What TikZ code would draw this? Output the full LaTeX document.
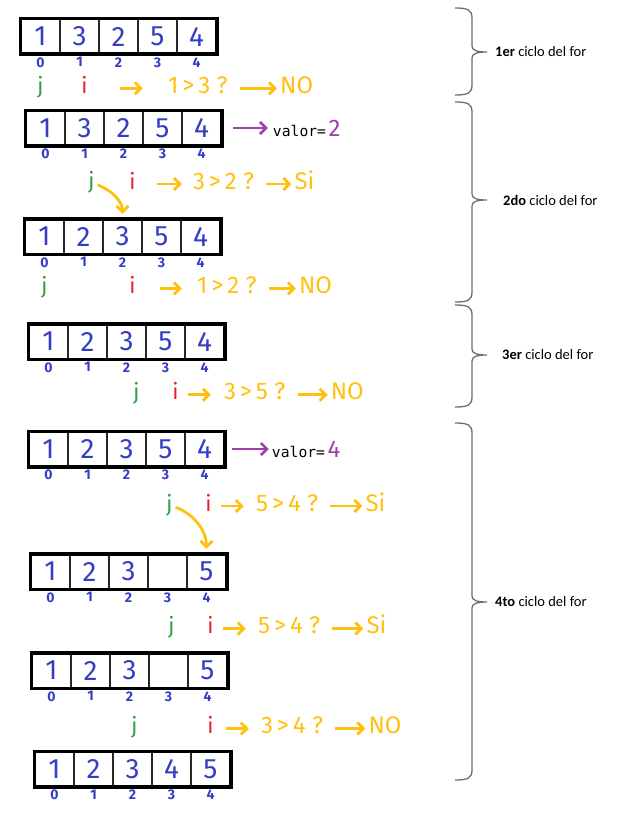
\documentclass[tikz,border=0pt]{standalone}
\usepackage{fontspec}
\setmainfont{Fira Sans}
\setmonofont{DejaVu Sans Mono}
\newfontfamily\calibri{Carlito}
\usepackage{xcolor}
\usetikzlibrary{positioning,arrows.meta,fit}

\definecolor{azul}{RGB}{52,62,196}
\definecolor{verde}{RGB}{46,160,64}
\definecolor{rojo}{RGB}{228,32,40}
\definecolor{amarillo}{RGB}{255,192,16}
\definecolor{morado}{RGB}{158,64,170}
\definecolor{gris}{RGB}{110,110,110}

\begin{document}
\begin{tikzpicture}[
    x=1pt, y=-1pt, >={Straight Barb[length=6pt,width=12pt]},
    node distance=10pt,
    celda/.style={draw=black!85, line width=1.5pt, fill=white,
                  minimum width=39pt, minimum height=34pt, inner sep=0pt,
                  text=azul, font=\fontsize{28}{30}\selectfont},
    marco/.style={draw=black, line width=3.5pt, inner sep=0pt},
    indice/.style={inner sep=0pt, text=azul, font=\fontsize{14}{16}\bfseries},
    varj/.style={inner sep=0pt, text=verde, text height=16pt, text depth=6pt,
                 font=\fontsize{22}{24}\selectfont},
    vari/.style={varj, text=rojo},
    cmp/.style={varj, text=amarillo, font=\fontsize{24}{26}\selectfont},
    valor/.style={inner sep=0pt, font=\fontsize{14.7}{16}\ttfamily},
    ciclo/.style={anchor=west, inner sep=0pt, font=\calibri\fontsize{14.5}{16}\selectfont},
    flecha/.style={->, draw=amarillo, line width=2.8pt},
    luego/.style={flecha, shorten <=12pt, shorten >=3pt},
    parr/.style={->, draw=morado, line width=2.5pt},
    llave/.style={draw=gris, line width=1.3pt}
  ]
  \useasboundingbox (0,0) rectangle (618,816);

  % 1er ciclo
  \foreach \v [count=\k from 0] in {1,3,2,5,4} {
    \node[celda] (a1c\k) at ({40.5+39*\k},36.5) {\v};
    \node[indice, below=3pt of a1c\k] (a1n\k) {\k};
  }
  \node[marco, fit=(a1c0)(a1c4)] (a1) {};
  \node[varj, below=10pt of a1n0] (j1) {j};
  \node[vari, below=10pt of a1n1, xshift=5pt] (i1) {i};
  \node[cmp, right=80pt of i1] (q1) {1\,>\,3 ?};
  \node[cmp, right=52pt of q1] (r1) {NO};
  \draw[flecha, shorten <=32pt, shorten >=25pt] (i1) -- (q1);
  \draw[luego] (q1) -- (r1);

  % 2do ciclo
  \foreach \v [count=\k from 0] in {1,3,2,5,4} {
    \node[celda] (a2c\k) at ({45.5+39*\k},128) {\v};
    \node[indice, below=3pt of a2c\k] (a2n\k) {\k};
  }
  \node[marco, fit=(a2c0)(a2c4)] (a2) {};
  \node[valor, right=51pt of a2c4] (v2) {valor=\,{\color{morado}\fontsize{24}{26}\rmfamily 2}};
  \draw[parr, shorten <=11pt, shorten >=5pt] (a2c4) -- (v2);
  \node[varj, below=14pt of a2n1, xshift=7pt] (j2) {j};
  \node[vari, below=14pt of a2n2, xshift=9pt] (i2) {i};
  \node[cmp, right=57pt of i2] (q2) {3\,>\,2 ?};
  \node[cmp, right=40pt of q2] (r2) {Si};
  \draw[flecha, shorten <=21pt, shorten >=11pt] (i2) -- (q2);
  \draw[luego] (q2) -- (r2);

  \foreach \v [count=\k from 0] in {1,2,3,5,4} {
    \node[celda] (a3c\k) at ({44.5+39*\k},236.5) {\v};
    \node[indice, below=3pt of a3c\k] (a3n\k) {\k};
  }
  \node[marco, fit=(a3c0)(a3c4)] (a3) {};
  \draw[flecha, shorten <=3pt, shorten >=5pt] (j2.east) to[out=-20,in=90] (a3c2.north);
  \node[varj, below=10pt of a3n0] (j3) {j};
  \node[vari, below=10pt of a3n2, xshift=10pt] (i3) {i};
  \node[cmp, right=61pt of i3] (q3) {1\,>\,2 ?};
  \node[cmp, right=42pt of q3] (r3) {NO};
  \draw[flecha, shorten <=24pt, shorten >=15pt] (i3) -- (q3);
  \draw[luego] (q3) -- (r3);

  % 3er ciclo
  \foreach \v [count=\k from 0] in {1,2,3,5,4} {
    \node[celda] (a4c\k) at ({48.5+39*\k},341.5) {\v};
    \node[indice, below=3pt of a4c\k] (a4n\k) {\k};
  }
  \node[marco, fit=(a4c0)(a4c4)] (a4) {};
  \node[varj, below=11pt of a4n2, xshift=10pt] (j4) {j};
  \node[vari, below=11pt of a4n3, xshift=10pt] (i4) {i};
  \node[cmp, right=45pt of i4] (q4) {3\,>\,5 ?};
  \node[cmp, right=45pt of q4] (r4) {NO};
  \draw[flecha, shorten <=9pt, shorten >=13pt] (i4) -- (q4);
  \draw[luego] (q4) -- (r4);

  % 4to ciclo
  \foreach \v [count=\k from 0] in {1,2,3,5,4} {
    \node[celda] (a5c\k) at ({48.5+39*\k},449) {\v};
    \node[indice, below=3pt of a5c\k] (a5n\k) {\k};
  }
  \node[marco, fit=(a5c0)(a5c4)] (a5) {};
  \node[valor, right=47pt of a5c4] (v5) {valor=\,{\color{morado}\fontsize{24}{26}\rmfamily 4}};
  \draw[parr, shorten <=7pt, shorten >=3pt] (a5c4) -- (v5);
  \node[varj, below=15pt of a5n3, xshift=4pt] (j5) {j};
  \node[vari, below=15pt of a5n4, xshift=4pt] (i5) {i};
  \node[cmp, right=44pt of i5] (q5) {5\,>\,4 ?};
  \node[cmp, right=47pt of q5] (r5) {Si};
  \draw[flecha, shorten <=9pt, shorten >=12pt] (i5) -- (q5);
  \draw[luego] (q5) -- (r5);

  \foreach \v [count=\k from 0] in {1,2,3,{},5} {
    \node[celda] (a6c\k) at ({50.5+39*\k},571.5) {\v};
    \node[indice, below=3pt of a6c\k] (a6n\k) {\k};
  }
  \node[marco, fit=(a6c0)(a6c4)] (a6) {};
  \draw[flecha, shorten <=3pt, shorten >=5pt] (j5.east) to[out=-20,in=90] (a6c4.north);
  \node[varj, below=15pt of a6n3, xshift=4pt] (j6) {j};
  \node[vari, below=15pt of a6n4, xshift=4pt] (i6) {i};
  \node[cmp, right=44pt of i6] (q6) {5\,>\,4 ?};
  \node[cmp, right=46pt of q6] (r6) {Si};
  \draw[flecha, shorten <=9pt, shorten >=12pt] (i6) -- (q6);
  \draw[luego] (q6) -- (r6);

  \foreach \v [count=\k from 0] in {1,2,3,{},5} {
    \node[celda] (a7c\k) at ({51.5+39*\k},670.5) {\v};
    \node[indice, below=3pt of a7c\k] (a7n\k) {\k};
  }
  \node[marco, fit=(a7c0)(a7c4)] (a7) {};
  \node[varj, below=16pt of a7n2, xshift=5pt] (j7) {j};
  \node[vari, below=16pt of a7n4, xshift=3pt] (i7) {i};
  \node[cmp, right=47pt of i7] (q7) {3\,>\,4 ?};
  \node[cmp, right=45pt of q7] (r7) {NO};
  \draw[flecha, shorten <=12pt, shorten >=12pt] (i7) -- (q7);
  \draw[luego] (q7) -- (r7);

  \foreach \v [count=\k from 0] in {1,2,3,4,5} {
    \node[celda] (a8c\k) at ({54.5+39*\k},769) {\v};
    \node[indice, below=3pt of a8c\k] (a8n\k) {\k};
  }
  \node[marco, fit=(a8c0)(a8c4)] (a8) {};

  % llaves
  \foreach \t/\b/\m in {8/95/52, 102/302/200, 305/407/355, 423/780/602}
    \draw[llave] (455,\t) .. controls (468,\t) and (472,\t+2) .. (472,\t+10)
      -- (472,\m-6) .. controls (472,\m-2) and (476,\m) .. (487,\m)
      .. controls (476,\m) and (472,\m+2) .. (472,\m+6)
      -- (472,\b-10) .. controls (472,\b-2) and (468,\b) .. (455,\b);
  \node[ciclo] (t1) at (495,52) {\textbf{1er} ciclo del for};
  \node[ciclo] (t2) at (503,200) {\textbf{2do} ciclo del for};
  \node[ciclo] (t3) at (502,355) {\textbf{3er} ciclo del for};
  \node[ciclo] (t4) at (495,602) {\textbf{4to} ciclo del for};
\end{tikzpicture}
\end{document}
